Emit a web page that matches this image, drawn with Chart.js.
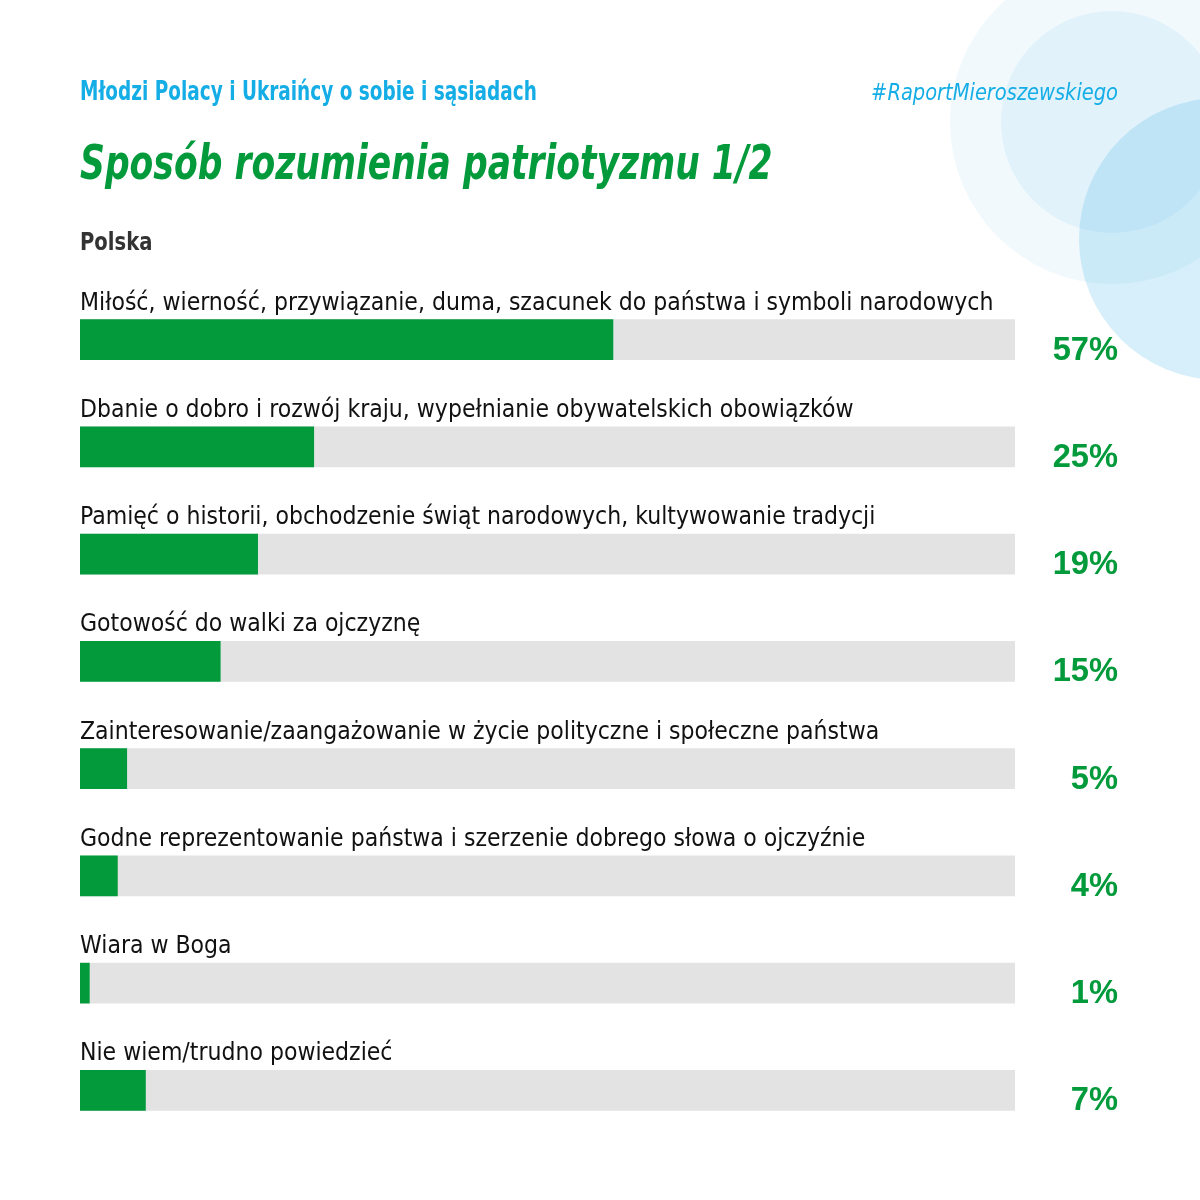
<!DOCTYPE html>
<html>
<head>
<meta charset="utf-8">
<script src="https://cdn.jsdelivr.net/npm/chart.js@4"></script>
<style>
  html, body { margin: 0; padding: 0; background: #fff; }
  #wrap { width: 1200px; height: 1200px; position: relative; }
</style>
</head>
<body>
<div id="wrap"><canvas id="chart" width="1200" height="1200"></canvas></div>
<script>
// data
const categories = [
    "Miłość, wierność, przywiązanie, duma, szacunek do państwa i symboli narodowych",
    "Dbanie o dobro i rozwój kraju, wypełnianie obywatelskich obowiązków",
    "Pamięć o historii, obchodzenie świąt narodowych, kultywowanie tradycji",
    "Gotowość do walki za ojczyznę",
    "Zainteresowanie/zaangażowanie w życie polityczne i społeczne państwa",
    "Godne reprezentowanie państwa i szerzenie dobrego słowa o ojczyźnie",
    "Wiara w Boga",
    "Nie wiem/trudno powiedzieć"
];
const values = [57, 25, 19, 15, 5, 4, 1, 7];
const maxValue = 100;

const subtitle = "Młodzi Polacy i Ukraińcy o sobie i sąsiadach";
const hashtag = "#RaportMieroszewskiego";
const title = "Sposób rozumienia patriotyzmu 1/2";
const groupName = "Polska";

const GREEN = "#029a3b";
const TRACK = "#e3e3e3";
const BLUE = "#14ade6";
const NARROW = "'Liberation Sans Narrow', 'DejaVu Sans Condensed', sans-serif";

// draws text squeezed horizontally (the original uses a condensed face)
function squeezedText(ctx, text, x, y, font, sx, align) {
    ctx.save();
    ctx.font = font;
    ctx.textAlign = align || 'left';
    ctx.translate(x, y);
    ctx.scale(sx, 1);
    ctx.fillText(text, 0, 0);
    ctx.restore();
}

const decorPlugin = {
    id: 'decor',
    beforeDraw(chart) {
        const ctx = chart.ctx;
        ctx.save();
        ctx.fillStyle = '#fff';
        ctx.fillRect(0, 0, chart.width, chart.height);
        // background circles
        ctx.fillStyle = 'rgba(20, 160, 225, 0.06)';
        ctx.beginPath(); ctx.arc(1112, 122, 162, 0, Math.PI * 2); ctx.fill();
        ctx.fillStyle = 'rgba(20, 160, 225, 0.07)';
        ctx.beginPath(); ctx.arc(1112, 122, 111, 0, Math.PI * 2); ctx.fill();
        ctx.fillStyle = 'rgba(20, 160, 225, 0.17)';
        ctx.beginPath(); ctx.arc(1220, 239, 141, 0, Math.PI * 2); ctx.fill();

        // header
        ctx.textBaseline = 'alphabetic';
        ctx.fillStyle = BLUE;
        squeezedText(ctx, subtitle, 80, 100, "bold 26px " + NARROW, 0.79, 'left');
        squeezedText(ctx, hashtag, 1118, 100, "italic 23px " + NARROW, 0.94, 'right');

        ctx.fillStyle = GREEN;
        squeezedText(ctx, title, 80, 179, "italic bold 48px " + NARROW, 0.8, 'left');

        ctx.fillStyle = '#333';
        squeezedText(ctx, groupName, 80, 250, "bold 25px " + NARROW, 0.87, 'left');
        ctx.restore();
    },
    afterDatasetsDraw(chart) {
        const ctx = chart.ctx;
        const meta = chart.getDatasetMeta(0);
        ctx.save();
        meta.data.forEach((bar, i) => {
            ctx.fillStyle = '#111';
            squeezedText(ctx, categories[i], chart.chartArea.left, bar.y - 30, "24.5px " + NARROW, 1, 'left');
            ctx.fillStyle = GREEN;
            squeezedText(ctx, values[i] + '%', 1118, bar.y + 20, "bold 34px 'Liberation Sans', Arial, sans-serif", 0.96, 'right');
        });
        ctx.restore();
    }
};

new Chart(document.getElementById('chart'), {
    type: 'bar',
    data: {
        labels: categories,
        datasets: [
            {
                data: values,
                backgroundColor: GREEN,
                barThickness: 40,
                order: 0
            },
            {
                data: categories.map(() => maxValue),
                backgroundColor: TRACK,
                barThickness: 40,
                order: 1
            }
        ]
    },
    options: {
        indexAxis: 'y',
        responsive: false,
        animation: false,
        devicePixelRatio: 1,
        layout: { padding: { left: 80, right: 185, top: 286, bottom: 56 } },
        plugins: {
            legend: { display: false },
            tooltip: { enabled: false },
            title: { display: false }
        },
        scales: {
            x: { display: false, min: 0, max: maxValue, stacked: false },
            y: { display: false, stacked: true }
        }
    },
    plugins: [decorPlugin]
});
</script>
</body>
</html>
